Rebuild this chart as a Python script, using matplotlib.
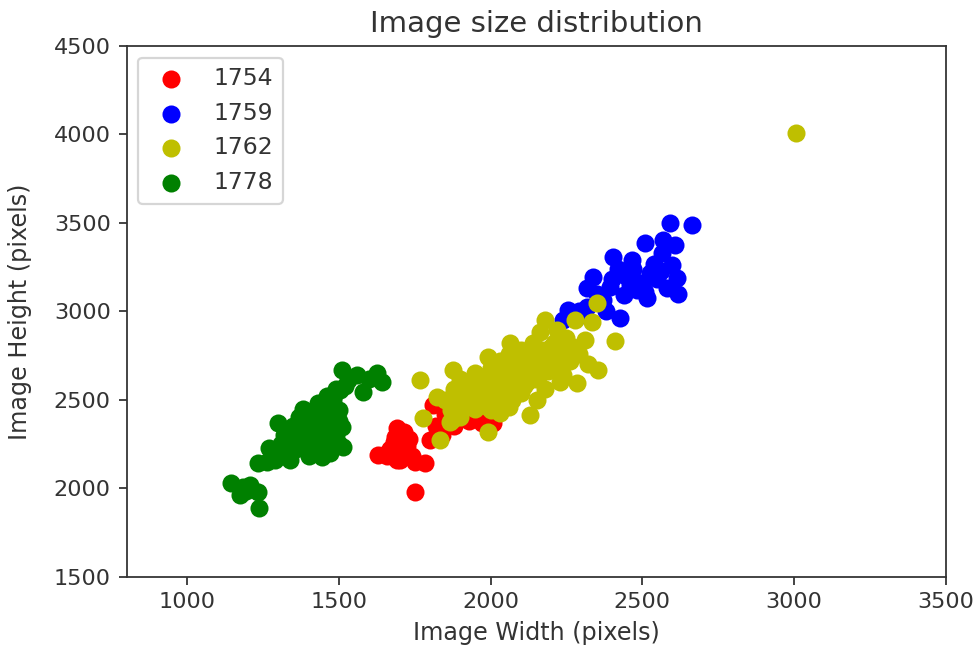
import numpy as np
import matplotlib
matplotlib.use('Agg')
import matplotlib.pyplot as plt
from matplotlib import rcParams

rcParams['font.family'] = 'DejaVu Sans'
rcParams['font.size'] = 10
txt = '#333333'
rcParams['text.color'] = txt
rcParams['axes.labelcolor'] = txt
rcParams['xtick.color'] = txt
rcParams['ytick.color'] = txt
rcParams['axes.edgecolor'] = txt

# data (width, height in pixels)
years = ['1754', '1759', '1762', '1778']
colors = ['r', 'b', 'y', 'g']

w_1754 = [1628, 1660, 1690, 1700, 1710, 1680, 1720, 1700, 1740, 1783, 1750, 1670,
          1730, 1690, 1715, 1750, 1660, 1809, 1830, 1850, 1870, 1890, 1910, 1930,
          1950, 1970, 2007, 1800, 1820, 1880, 1960, 1990, 1860, 1920, 1840,
          1705, 1725, 1685, 1695]
h_1754 = [2190, 2200, 2340, 2300, 2250, 2260, 2200, 2160, 2180, 2142, 2150, 2220,
          2280, 2160, 2320, 1978, 2180, 2470, 2480, 2420, 2460, 2400, 2430, 2380,
          2410, 2370, 2368, 2272, 2350, 2350, 2440, 2400, 2380, 2470, 2300,
          2230, 2240, 2290, 2200]

w_1759 = [2591, 2663, 2508, 2568, 2607, 2564, 2403, 2466, 2598, 2337, 2614, 2317,
          2617, 2515, 2255, 2426, 2238, 2449, 2525, 2393, 2482, 2370, 2317, 2420,
          2500, 2550, 2440, 2350, 2290, 2580, 2470, 2540, 2400, 2280, 2380,
          2460, 2510, 2430, 2560]
h_1759 = [3497, 3486, 3386, 3403, 3375, 3329, 3306, 3288, 3260, 3193, 3186, 3130,
          3100, 3077, 3005, 2960, 2949, 3193, 3215, 3136, 3119, 3062, 3023, 3240,
          3160, 3180, 3090, 3100, 3000, 3130, 3240, 3270, 3180, 2960, 3000,
          3150, 3110, 3210, 3230]

w_1762 = [1766, 3005, 1776, 1832, 1865, 1991, 2129, 2284, 2353, 2409, 2179, 2278,
          2334, 2350, 1991, 1875, 2063, 2162, 2218, 1822, 2030, 2152, 1872,
          1850, 1880, 1900, 1920, 1940, 1950, 1960, 1980, 1990, 2000, 2010, 2020,
          2030, 2040, 2050, 2060, 2070, 2080, 2090, 2100, 2110, 2120, 2130, 2140,
          2150, 2160, 2170, 2180, 2190, 2200, 2210, 2220, 2230, 2240, 2250, 2260,
          2270, 2290, 2310, 2320, 1910, 1990, 2060, 1870, 2100, 2230,
          1900, 1930, 1960, 1970, 2000, 2010, 2040, 2050, 2070, 2080, 2100, 2110,
          2130, 2150, 2160, 2180, 2200, 2200, 2240, 2250, 2270, 1950, 2020, 1900,
          2050, 2120, 2000, 1940]
h_1762 = [2610, 4010, 2397, 2272, 2375, 2317, 2413, 2594, 2668, 2830, 2949, 2949,
          2939, 3045, 2741, 2668, 2820, 2882, 2894, 2515, 2424, 2498, 2386,
          2500, 2560, 2620, 2530, 2590, 2650, 2480, 2560, 2620, 2680, 2520, 2600,
          2720, 2560, 2650, 2760, 2500, 2620, 2700, 2780, 2580, 2660, 2740, 2820,
          2620, 2700, 2780, 2560, 2660, 2740, 2820, 2700, 2780, 2640, 2850, 2720,
          2800, 2760, 2840, 2700, 2450, 2460, 2460, 2440, 2540, 2600,
          2500, 2560, 2600, 2540, 2580, 2640, 2620, 2700, 2580, 2680, 2620, 2720,
          2680, 2760, 2640, 2720, 2680, 2800, 2740, 2780, 2760, 2450, 2500, 2400,
          2540, 2600, 2440, 2500]

w_1778 = [1145, 1184, 1206, 1232, 1173, 1236, 1195,
          1232, 1262, 1290, 1338, 1300, 1270, 1298, 1320, 1340, 1350, 1370, 1360,
          1390, 1400, 1410, 1420, 1430, 1440, 1450, 1460, 1470, 1480, 1490, 1500,
          1510, 1512, 1443, 1400, 1380, 1430, 1480, 1500, 1460, 1490, 1509, 1530,
          1559, 1578, 1600, 1625, 1641, 1330, 1420, 1455, 1390, 1360, 1310, 1280,
          1410, 1470, 1440, 1520, 1502, 1479,
          1350, 1380, 1400, 1420, 1430, 1450, 1460, 1370, 1410, 1440, 1480, 1500,
          1390, 1330, 1460]
h_1778 = [2028, 2008, 2018, 1980, 1962, 1886, 1985,
          2142, 2150, 2160, 2159, 2200, 2230, 2368, 2300, 2260, 2350, 2400, 2220,
          2280, 2320, 2380, 2420, 2250, 2300, 2350, 2460, 2200, 2400, 2300, 2250,
          2345, 2232, 2176, 2180, 2450, 2480, 2500, 2440, 2520, 2560, 2667, 2610,
          2640, 2543, 2620, 2651, 2600, 2230, 2340, 2400, 2350, 2300, 2250, 2190,
          2230, 2340, 2440, 2580, 2555, 2515,
          2280, 2330, 2270, 2290, 2370, 2280, 2320, 2360, 2430, 2390, 2260, 2380,
          2250, 2330, 2420]

widths = [w_1754, w_1759, w_1762, w_1778]
heights = [h_1754, h_1759, h_1762, h_1778]

fig = plt.figure(figsize=(977/161, 655/161), dpi=161)
ax = fig.add_axes([0.1295, 0.1195, 0.8385, 0.8105])

for w, h, c, yr in zip(widths, heights, colors, years):
    ax.scatter(w, h, c=c, s=50, label=yr)

ax.set_xlim(800, 3500)
ax.set_ylim(1500, 4500)
ax.set_xticks(np.arange(1000, 3501, 500))
ax.set_yticks(np.arange(1500, 4501, 500))
ax.set_title("Image size distribution", fontsize=13)
ax.set_xlabel("Image Width (pixels)", fontsize=10.7)
ax.set_ylabel("Image Height (pixels)", fontsize=10.7, labelpad=10)
ax.legend(loc='upper left', scatterpoints=1, fontsize=10.5)

plt.savefig("out.png", dpi=161)
